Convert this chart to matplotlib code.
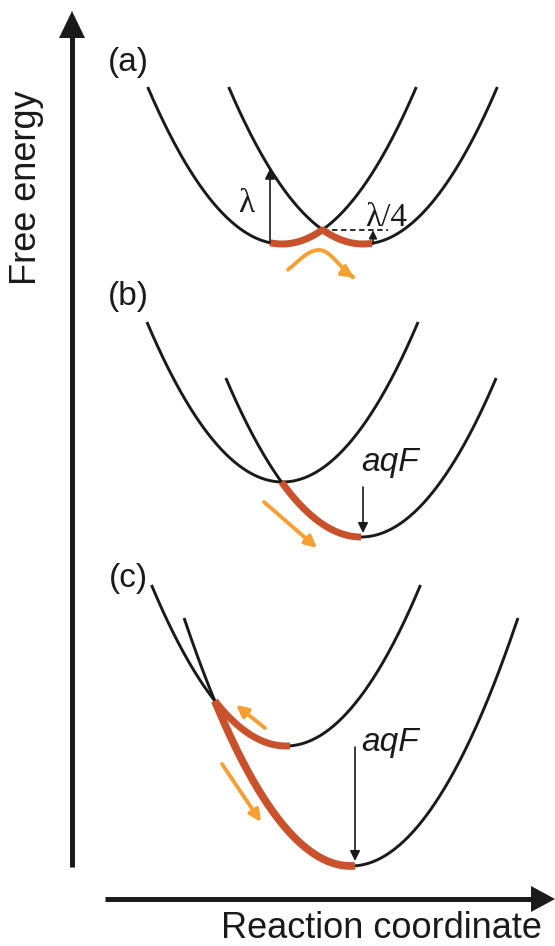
import numpy as np
import matplotlib
matplotlib.use("Agg")
import matplotlib.pyplot as plt
from matplotlib.patches import Polygon, FancyArrowPatch
from matplotlib.path import Path

# ---- schematic data (picture coordinates, y grows downward) ----
panel_labels = ["(a)", "(b)", "(c)"]
label_y = [62, 296, 578]
curvature = [0.0087, 0.0087, 0.0089]
left_center = [282, 282.5, 286]
left_min = [244, 482, 746]
left_top = [87, 322, 585]
right_center = [363, 361, 351]
right_min = [244, 537, 866]
right_top = [87, 378, 618]

BLACK = "#1a1a1a"
RED = "#c9512b"
ORANGE = "#f6a033"
SANS = ["Liberation Sans", "DejaVu Sans"]
SERIF = ["Liberation Serif", "DejaVu Serif"]

fig = plt.figure(figsize=(5.55, 9.46), dpi=100)
ax = fig.add_axes([0, 0, 1, 1])
ax.set_xlim(0, 555)
ax.set_ylim(946, 0)
ax.axis("off")


def para(x, c, m, k):
    return m - k * (x - c) ** 2


def xrange_of(c, m, top, k):
    d = np.sqrt((m - top) / k)
    return c - d, c + d


def crossing(c1, m1, c2, m2, k):
    # m1 - k(x-c1)^2 = m2 - k(x-c2)^2
    return ((m2 - m1) / k + c1 ** 2 - c2 ** 2) / (2 * (c1 - c2))


def black_arrow(x, y0, y1, ms=15):
    ax.annotate("", xy=(x, y1), xytext=(x, y0),
                arrowprops=dict(arrowstyle="-|>", color=BLACK, lw=1.2,
                                mutation_scale=ms, shrinkA=0, shrinkB=0))


def orange_arrow(points):
    pts = np.asarray(points, dtype=float)
    codes = [Path.MOVETO] + [Path.LINETO] * (len(pts) - 1)
    ax.add_patch(FancyArrowPatch(path=Path(pts, codes), arrowstyle="-|>",
                                 color=ORANGE, lw=2.8, mutation_scale=17,
                                 joinstyle="round", capstyle="round"))


# parabolas
for i in range(3):
    k = curvature[i]
    for c, m, t in [(left_center[i], left_min[i], left_top[i]),
                    (right_center[i], right_min[i], right_top[i])]:
        a, b = xrange_of(c, m, t, k)
        xs = np.linspace(a, b, 300)
        ax.plot(xs, para(xs, c, m, k), color=BLACK, lw=2.1,
                solid_capstyle="butt", zorder=2)
    ax.text(128, label_y[i], panel_labels[i], fontsize=24, family=SANS,
            ha="center", va="center", color=BLACK)

# ---- panel (a) ----
k = curvature[0]
xc = crossing(left_center[0], left_min[0], right_center[0], right_min[0], k)
yc = para(xc, left_center[0], left_min[0], k)
xs = np.linspace(270, 372, 200)
env = np.maximum(para(xs, left_center[0], left_min[0], k),
                 para(xs, right_center[0], right_min[0], k))
ax.plot(xs, env, color=RED, lw=5.0, solid_capstyle="butt", zorder=3)
# lambda arrow
black_arrow(270, para(270, left_center[0], left_min[0], k),
            para(270, right_center[0], right_min[0], k))
ax.text(246, 204, "λ", fontsize=24, family=SERIF, ha="center", va="center",
        color=BLACK)
# lambda/4
ax.plot([xc, 388], [yc, yc], color=BLACK, lw=1.3, ls=(0, (3, 2)), zorder=2)
black_arrow(373, para(373, right_center[0], right_min[0], k) + 1, yc + 0.5,
            ms=12)
ax.text(365, 218, "λ/4", fontsize=24, family=SERIF, ha="left", va="center",
        color=BLACK)
# hump-shaped orange arrow
hx = np.linspace(288, 354, 80)
hy = np.where(hx < 319,
              285 - 35 * np.exp(-((hx - 319) / 34) ** 2),
              285 - 35 * np.exp(-((hx - 319) / 28) ** 2))
orange_arrow(np.column_stack([hx, hy]))

# ---- panel (b) ----
k = curvature[1]
xc = crossing(left_center[1], left_min[1], right_center[1], right_min[1], k)
xs = np.linspace(xc, right_center[1], 200)
ax.plot(xs, para(xs, right_center[1], right_min[1], k), color=RED, lw=5.0,
        solid_capstyle="butt", zorder=3)
black_arrow(363, 487, 533)
ax.text(361, 462, "aqF", fontsize=24, family=SANS, style="italic",
        ha="left", va="center", color=BLACK)
orange_arrow([(264, 502), (317, 548)])

# ---- panel (c) ----
k = curvature[2]
xc = crossing(left_center[2], left_min[2], right_center[2], right_min[2], k)
xs = np.linspace(xc, 290, 200)
ax.plot(xs, para(xs, left_center[2], left_min[2], k), color=RED, lw=5.0,
        solid_capstyle="butt", zorder=3)
xs = np.linspace(xc, 355, 200)
ax.plot(xs, para(xs, right_center[2], right_min[2], k), color=RED, lw=5.5,
        solid_capstyle="butt", zorder=3)
black_arrow(355, 747, 861)
ax.text(361, 742, "aqF", fontsize=24, family=SANS, style="italic",
        ha="left", va="center", color=BLACK)
orange_arrow([(265, 728), (236, 705)])
orange_arrow([(222, 764), (261, 822)])

# ---- axes arrows ----
ax.plot([72, 72], [867, 34], color=BLACK, lw=3.6, solid_capstyle="butt")
ax.add_patch(Polygon([(72, 11), (59, 38), (85, 38)], closed=True,
                     color=BLACK, lw=0))
ax.plot([105, 534], [899, 899], color=BLACK, lw=3.6, solid_capstyle="butt")
ax.add_patch(Polygon([(555, 899), (531, 886), (531, 912)], closed=True,
                     color=BLACK, lw=0))

ax.text(27, 188, "Free energy", fontsize=26, family=SANS, rotation=90,
        ha="center", va="center", color=BLACK)
ax.text(381, 928, "Reaction coordinate", fontsize=26, family=SANS,
        ha="center", va="center", color=BLACK)

fig.savefig("out.png", dpi=100)
